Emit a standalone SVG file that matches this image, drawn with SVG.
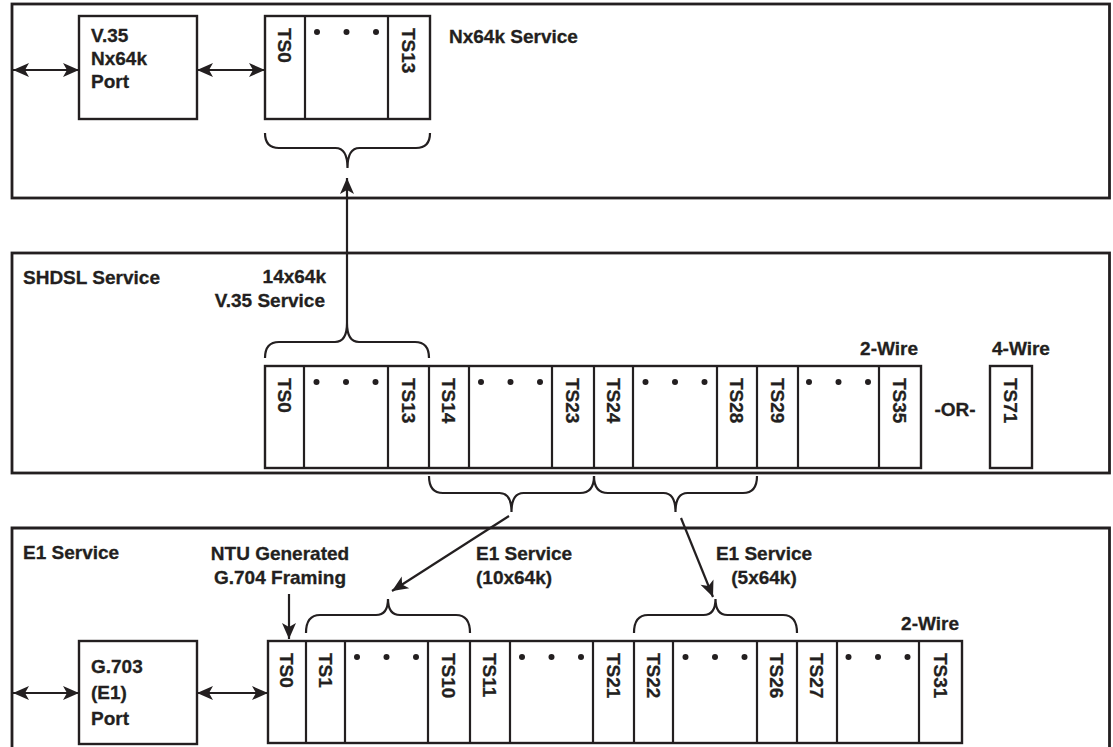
<svg xmlns="http://www.w3.org/2000/svg" width="1113" height="747" viewBox="0 0 1113 747">
<style>
text{font-family:"Liberation Sans",Arial,sans-serif;font-weight:bold;font-size:19px;fill:#231f20;stroke:#231f20;stroke-width:0.3}
.panel{fill:none;stroke:#231f20;stroke-width:2.8}
.box{fill:#fff;stroke:#231f20;stroke-width:2.4}
.cell{fill:none;stroke:#231f20;stroke-width:2.2}
.ln{fill:none;stroke:#231f20;stroke-width:2.2}
.arr{fill:none;stroke:#231f20;stroke-width:2.2;marker-end:url(#ah)}
.dbl{fill:none;stroke:#231f20;stroke-width:2.2;marker-start:url(#ah);marker-end:url(#ah)}
.dot{fill:#231f20}
</style>
<defs>
<marker id="ah" viewBox="-18 -9 19 18" markerWidth="19" markerHeight="18" refX="0" refY="0" orient="auto-start-reverse" markerUnits="userSpaceOnUse">
<path d="M0,0 L-16,-7 L-12,0 L-16,7 Z" fill="#231f20"/>
</marker>
</defs>
<rect width="1113" height="747" fill="#fff"/>

<g id="panel-nx64k">
<rect class="panel" x="12" y="4" width="1097.5" height="194"/>
<text x="449" y="43">Nx64k Service</text>
</g>
<g id="panel-shdsl">
<rect class="panel" x="12" y="253" width="1097.5" height="220"/>
<text x="23" y="284">SHDSL Service</text>
<text x="326" y="283" text-anchor="end">14x64k</text>
<text x="325" y="307" text-anchor="end">V.35 Service</text>
<text x="918" y="355" text-anchor="end">2-Wire</text>
<text x="992" y="355">4-Wire</text>
<text x="955" y="416" text-anchor="middle">-OR-</text>
</g>
<g id="panel-e1">
<path class="panel" d="M12,760 V528 H1109.5 V760"/>
<text x="23" y="559">E1 Service</text>
<text x="280" y="560" text-anchor="middle">NTU Generated</text>
<text x="280" y="584" text-anchor="middle">G.704 Framing</text>
<text x="476" y="560">E1 Service</text>
<text x="476" y="584">(10x64k)</text>
<text x="764" y="560" text-anchor="middle">E1 Service</text>
<text x="764" y="584" text-anchor="middle">(5x64k)</text>
<text x="959" y="630" text-anchor="end">2-Wire</text>
</g>

<g id="v35-port">
<rect class="box" x="79" y="16" width="118" height="103"/>
<text x="91" y="42">V.35</text>
<text x="91" y="65">Nx64k</text>
<text x="91" y="88">Port</text>
</g>
<g id="g703-port">
<rect class="box" x="79" y="641" width="118" height="103"/>
<text x="91" y="673">G.703</text>
<text x="91" y="699">(E1)</text>
<text x="91" y="725">Port</text>
</g>

<g id="ts-nx64k">
<rect class="box" x="265" y="16" width="165" height="103"/>
<path class="cell" d="M305,16V119M388,16V119"/>
<text transform="translate(278.2,28) rotate(90)">TS0</text>
<text transform="translate(402.2,28) rotate(90)">TS13</text>
<circle class="dot" cx="317" cy="32" r="3"/><circle class="dot" cx="346.5" cy="32" r="3"/><circle class="dot" cx="376" cy="32" r="3"/>
</g>

<g id="ts-shdsl">
<rect class="box" x="265" y="366" width="656" height="102"/>
<path class="cell" d="M304,366V468M388,366V468M429,366V468M469,366V468M552,366V468M594,366V468M633,366V468M717,366V468M757,366V468M798,366V468M879,366V468"/>
<text transform="translate(277.7,378) rotate(90)">TS0</text>
<text transform="translate(401.7,378) rotate(90)">TS13</text>
<text transform="translate(442.2,378) rotate(90)">TS14</text>
<text transform="translate(566.2,378) rotate(90)">TS23</text>
<text transform="translate(606.7,378) rotate(90)">TS24</text>
<text transform="translate(730.2,378) rotate(90)">TS28</text>
<text transform="translate(770.7,378) rotate(90)">TS29</text>
<text transform="translate(893.2,378) rotate(90)">TS35</text>
<circle class="dot" cx="316.5" cy="382" r="3"/><circle class="dot" cx="346" cy="382" r="3"/><circle class="dot" cx="375.5" cy="382" r="3"/>
<circle class="dot" cx="481" cy="382" r="3"/><circle class="dot" cx="510.5" cy="382" r="3"/><circle class="dot" cx="540" cy="382" r="3"/>
<circle class="dot" cx="645.5" cy="382" r="3"/><circle class="dot" cx="675" cy="382" r="3"/><circle class="dot" cx="704.5" cy="382" r="3"/>
<circle class="dot" cx="809" cy="382" r="3"/><circle class="dot" cx="838.5" cy="382" r="3"/><circle class="dot" cx="868" cy="382" r="3"/>
</g>
<g id="ts71">
<rect class="box" x="990" y="366" width="42" height="102"/>
<text transform="translate(1004.2,378) rotate(90)">TS71</text>
</g>

<g id="ts-e1">
<rect class="box" x="268" y="641" width="694" height="102"/>
<path class="cell" d="M306,641V743M345,641V743M428,641V743M470,641V743M510,641V743M593,641V743M634,641V743M673,641V743M757,641V743M797,641V743M837,641V743M919,641V743"/>
<text transform="translate(280.2,653) rotate(90)">TS0</text>
<text transform="translate(318.7,653) rotate(90)">TS1</text>
<text transform="translate(442.2,653) rotate(90)">TS10</text>
<text transform="translate(483.2,653) rotate(90)">TS11</text>
<text transform="translate(606.7,653) rotate(90)">TS21</text>
<text transform="translate(646.7,653) rotate(90)">TS22</text>
<text transform="translate(770.2,653) rotate(90)">TS26</text>
<text transform="translate(810.2,653) rotate(90)">TS27</text>
<text transform="translate(933.7,653) rotate(90)">TS31</text>
<circle class="dot" cx="357" cy="657" r="3"/><circle class="dot" cx="386.5" cy="657" r="3"/><circle class="dot" cx="416" cy="657" r="3"/>
<circle class="dot" cx="522" cy="657" r="3"/><circle class="dot" cx="551.5" cy="657" r="3"/><circle class="dot" cx="581" cy="657" r="3"/>
<circle class="dot" cx="685.5" cy="657" r="3"/><circle class="dot" cx="715" cy="657" r="3"/><circle class="dot" cx="744.5" cy="657" r="3"/>
<circle class="dot" cx="848.5" cy="657" r="3"/><circle class="dot" cx="878" cy="657" r="3"/><circle class="dot" cx="907.5" cy="657" r="3"/>
</g>

<g id="connectors">
<path class="ln" d="M265,133 Q265,148 279,148 L335.5,148 Q347.5,148 347.5,168 Q347.5,148 359.5,148 L416,148 Q430,148 430,133"/>
<path class="ln" d="M265,358 Q265,342 279,342 L335,342 Q347,342 347,323 Q347,342 359,342 L415,342 Q429,342 429,358"/>
<path class="ln" d="M429,476 Q429,493 443,493 L499.5,493 Q511.5,493 511.5,512 Q511.5,493 523.5,493 L580,493 Q594,493 594,476"/>
<path class="ln" d="M594,476 Q594,493 608,493 L663.5,493 Q675.5,493 675.5,512 Q675.5,493 687.5,493 L743,493 Q757,493 757,476"/>
<path class="ln" d="M306,633 Q306,615 320,615 L376,615 Q388,615 388,599 Q388,615 400,615 L456,615 Q470,615 470,633"/>
<path class="ln" d="M634,633 Q634,615 648,615 L703.5,615 Q715.5,615 715.5,599 Q715.5,615 727.5,615 L783,615 Q797,615 797,633"/>
<path class="arr" d="M347,323 V178"/>
<path class="arr" d="M509,516 L392,591"/>
<path class="arr" d="M681,518 L713,597"/>
<path class="arr" d="M289,594 V639"/>
<path class="dbl" d="M13,70 H79"/>
<path class="dbl" d="M197,70 H265"/>
<path class="dbl" d="M13,693 H79"/>
<path class="dbl" d="M197,693 H268"/>
</g>
</svg>
